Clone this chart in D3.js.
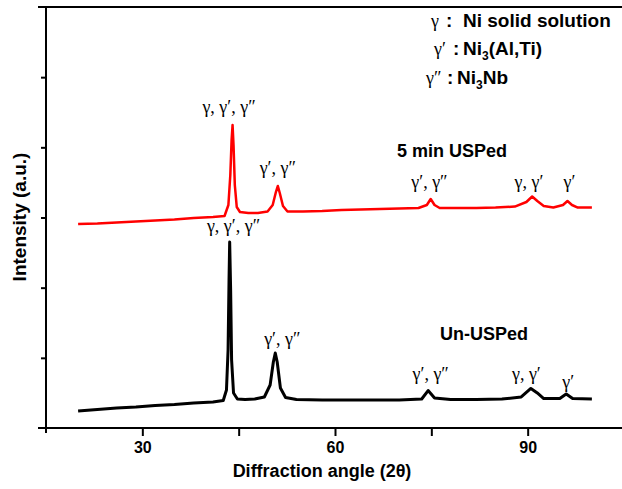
<!DOCTYPE html>
<html>
<head>
<meta charset="utf-8">
<script src="https://cdn.jsdelivr.net/npm/d3@7"></script>
<style>
  body { margin: 0; background: #fff; }
  svg { display: block; }
  .axis text { font-family: "Liberation Sans", Arial, sans-serif; font-weight: bold; font-size: 16px; fill: #000; }
  .axis path, .axis line { stroke: #000; stroke-width: 2; }
  .title { font-family: "Liberation Sans", Arial, sans-serif; font-weight: bold; font-size: 18px; }
  .greek { font-family: "Liberation Serif", "DejaVu Serif", "Times New Roman", serif; font-weight: normal; font-size: 18px; }
  .legend { font-family: "Liberation Sans Narrow", "Liberation Sans", Arial, sans-serif; font-weight: bold; font-size: 19px; }
</style>
</head>
<body>
<svg width="622" height="489"></svg>
<script>
// XRD patterns (2theta in degrees, intensity in a.u.)
const redAngle = [20, 23, 26, 29, 32, 35, 38, 41, 42.8, 43.4, 43.7, 43.9, 44.05, 44.2, 44.4, 44.7, 45.2, 46.5, 48, 49.5,
  50.3, 50.8, 51.1, 51.4, 51.9, 52.6, 55, 58, 61, 64, 67, 70, 73, 74.3, 74.9, 75.5, 76.3, 79, 82, 85,
  88, 89.8, 90.7, 91.5, 92.5, 94, 95.5, 96.2, 96.9, 97.8, 100];
const redIntensity = [2.907, 2.914, 2.929, 2.943, 2.957, 2.971, 2.993, 3.007, 3.021, 3.178, 3.606, 4.104, 4.318, 4.033, 3.463, 3.150, 3.078, 3.064, 3.064, 3.085,
  3.178, 3.363, 3.449, 3.349, 3.164, 3.086, 3.086, 3.092, 3.107, 3.114, 3.121, 3.128, 3.135, 3.178, 3.264, 3.178, 3.135, 3.135, 3.135, 3.142,
  3.156, 3.221, 3.299, 3.235, 3.164, 3.142, 3.178, 3.235, 3.178, 3.142, 3.142];

const blackAngle = [20, 23, 26, 29, 32, 35, 38, 41, 42.6, 43.1, 43.35, 43.5, 43.6, 43.75, 43.9, 44.2, 44.8, 46, 47.5, 49,
  49.9, 50.4, 50.7, 51.0, 51.5, 52.3, 54, 58, 62, 66, 70, 73.5, 74.5, 75.5, 78, 82, 86, 89, 90.5, 91.5,
  92.5, 95, 96, 97, 100];
const blackIntensity = [0.242, 0.264, 0.285, 0.299, 0.321, 0.335, 0.356, 0.371, 0.392, 0.542, 1.112, 2.109, 2.651, 1.967, 0.969, 0.499, 0.413, 0.406, 0.413, 0.442,
  0.613, 0.941, 1.069, 0.941, 0.570, 0.435, 0.406, 0.399, 0.399, 0.399, 0.399, 0.413, 0.534, 0.428, 0.406, 0.406, 0.413, 0.442, 0.563, 0.499,
  0.420, 0.420, 0.485, 0.420, 0.413];

const xMajorTicks = [30, 60, 90];
const xMinorTicks = [45, 75, 105];
const yTicks = [1, 2, 3, 4, 5];

const svg = d3.select('svg');
const x = d3.scaleLinear().domain([15, 105]).range([46, 624]);
const y = d3.scaleLinear().domain([0, 6]).range([428, 7]);

// frame lines (top, left) extending a little past the corner like the original
svg.append('line')
  .attr('x1', x(15) - 8).attr('x2', 622)
  .attr('y1', y(6)).attr('y2', y(6))
  .attr('stroke', '#000').attr('stroke-width', 2);

svg.append('g')
  .attr('class', 'axis')
  .attr('transform', `translate(${x(15)},0)`)
  .call(d3.axisLeft(y).tickValues(yTicks).tickSize(5).tickSizeOuter(0).tickFormat(''))
  .call(g => g.select('.domain').attr('d', `M0,${y(6)}V${y(0) + 5}`));

svg.append('g')
  .attr('class', 'axis')
  .attr('transform', `translate(0,${y(0)})`)
  .call(d3.axisBottom(x).tickValues(xMinorTicks).tickSize(8).tickSizeOuter(0).tickFormat(''))
  .call(g => g.select('.domain').attr('d', `M${x(15) - 8},0H622`));

svg.append('g')
  .attr('class', 'axis')
  .attr('transform', `translate(0,${y(0)})`)
  .call(d3.axisBottom(x).tickValues(xMajorTicks).tickSize(8).tickPadding(6).tickSizeOuter(0))
  .call(g => g.select('.domain').remove());

const line = d3.line()
  .x(d => x(d[0]))
  .y(d => y(d[1]));

svg.append('path')
  .datum(d3.zip(blackAngle, blackIntensity))
  .attr('fill', 'none')
  .attr('stroke', '#000')
  .attr('stroke-width', 3)
  .attr('stroke-linejoin', 'round')
  .attr('d', line);

svg.append('path')
  .datum(d3.zip(redAngle, redIntensity))
  .attr('fill', 'none')
  .attr('stroke', '#ff0000')
  .attr('stroke-width', 2.5)
  .attr('stroke-linejoin', 'round')
  .attr('d', line);

// axis titles
svg.append('text')
  .attr('class', 'title')
  .attr('x', 322).attr('y', 477)
  .attr('text-anchor', 'middle')
  .text('Diffraction angle (2θ)');

svg.append('text')
  .attr('class', 'title')
  .style('font-size', '19px')
  .attr('transform', 'translate(26,217) rotate(-90)')
  .attr('text-anchor', 'middle')
  .text('Intensity (a.u.)');

// peak labels: [text, center x (deg), baseline y (a.u.)]
const peakLabels = [
  ['γ, γ′, γ″', 43.5, 4.49],
  ['γ′, γ″', 51.1, 3.62],
  ['γ′, γ″', 74.7, 3.42],
  ['γ, γ′', 90.2, 3.42],
  ['γ′', 96.5, 3.42],
  ['γ, γ′, γ″', 44.2, 2.79],
  ['γ′, γ″', 51.8, 1.18],
  ['γ′, γ″', 74.9, 0.68],
  ['γ, γ′', 89.8, 0.68],
  ['γ′', 96.3, 0.57]
];

svg.selectAll('.peak')
  .data(peakLabels)
  .enter()
  .append('text')
  .attr('class', 'greek')
  .attr('text-anchor', 'middle')
  .attr('x', d => x(d[1]))
  .attr('y', d => y(d[2]))
  .text(d => d[0]);

svg.append('text').attr('class', 'title')
  .attr('x', 397).attr('y', 157).text('5 min USPed');
svg.append('text').attr('class', 'title')
  .attr('x', 440).attr('y', 340).text('Un-USPed');

// legend
const legend = svg.append('g').attr('class', 'legend');
const l1 = legend.append('text').attr('y', 27);
l1.append('tspan').attr('class', 'greek').attr('x', 431).text('γ');
l1.append('tspan').attr('x', 446).text(':');
l1.append('tspan').attr('x', 463).text('Ni solid solution');

const l2 = legend.append('text').attr('y', 55);
l2.append('tspan').attr('class', 'greek').attr('x', 434).text('γ′');
l2.append('tspan').attr('x', 453).text(':');
l2.append('tspan').attr('x', 463).text('Ni');
l2.append('tspan').attr('dy', 5).style('font-size', '12px').text('3');
l2.append('tspan').attr('dy', -5).text('(Al,Ti)');

const l3 = legend.append('text').attr('y', 84);
l3.append('tspan').attr('class', 'greek').attr('x', 426).text('γ″');
l3.append('tspan').attr('x', 447).text(':');
l3.append('tspan').attr('x', 457).text('Ni');
l3.append('tspan').attr('dy', 5).style('font-size', '12px').text('3');
l3.append('tspan').attr('dy', -5).text('Nb');
</script>
</body>
</html>
